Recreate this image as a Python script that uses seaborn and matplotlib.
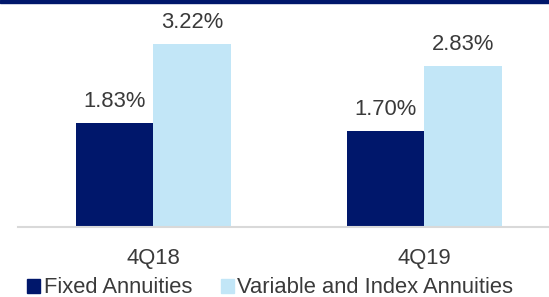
import matplotlib
matplotlib.use("Agg")
import matplotlib.pyplot as plt
from matplotlib.patches import Rectangle
import seaborn as sns
import pandas as pd

# data
quarters = ["4Q18", "4Q19"]
fixed_rates = [1.83, 1.70]
variable_rates = [3.22, 2.83]
series_names = ["Fixed Annuities", "Variable and Index Annuities"]

NAVY = "#00176b"
LIGHT = "#c2e6f7"
TEXT = "#3a3a3a"

df = pd.DataFrame({
    "quarter": quarters * 2,
    "rate": fixed_rates + variable_rates,
    "series": [series_names[0]] * len(quarters) + [series_names[1]] * len(quarters),
})

sns.set_style("white")
plt.rcParams["font.family"] = ["Liberation Sans", "DejaVu Sans"]

fig = plt.figure(figsize=(5.49, 2.97), dpi=100)
ax = fig.add_axes([18 / 549, 70 / 297, 531 / 549, 227 / 297])

sns.barplot(data=df, x="quarter", y="rate", hue="series", order=quarters,
            hue_order=series_names, palette=[NAVY, LIGHT], width=0.572,
            saturation=1, linewidth=0, ax=ax, legend=False)

for cont in ax.containers:
    for bar in cont:
        h = bar.get_height()
        ax.annotate(f"{h:.2f}%", (bar.get_x() + bar.get_width() / 2, h),
                    xytext=(0, 11.5), textcoords="offset points",
                    ha="center", va="baseline", fontsize=15.8, color=TEXT)

ax.set_ylim(0, 4.0)
ax.set_xlim(-0.5, 1.46)
ax.set_yticks([])
ax.set_xlabel("")
ax.set_ylabel("")
for side in ["top", "left", "right"]:
    ax.spines[side].set_visible(False)
ax.spines["bottom"].set_color("#d9d9d9")
ax.spines["bottom"].set_linewidth(1.5)
ax.tick_params(axis="x", length=0, pad=15, labelsize=15.8, labelcolor=TEXT)

handles = [Rectangle((0, 0), 1, 1, color=NAVY), Rectangle((0, 0), 1, 1, color=LIGHT)]
fig.legend(handles, series_names, loc="lower center", bbox_to_anchor=(0.492, -0.005),
           ncol=2, frameon=False, fontsize=15.8, labelcolor=TEXT,
           handlelength=0.6, handleheight=0.6, handletextpad=0.15,
           columnspacing=1.3, borderaxespad=0, borderpad=0)

# navy rule along the top edge
fig.add_artist(Rectangle((0, 1 - 2.5 / 297), 1, 2.5 / 297, color=NAVY,
                         transform=fig.transFigure, clip_on=False))

fig.savefig("out.png", dpi=100)
